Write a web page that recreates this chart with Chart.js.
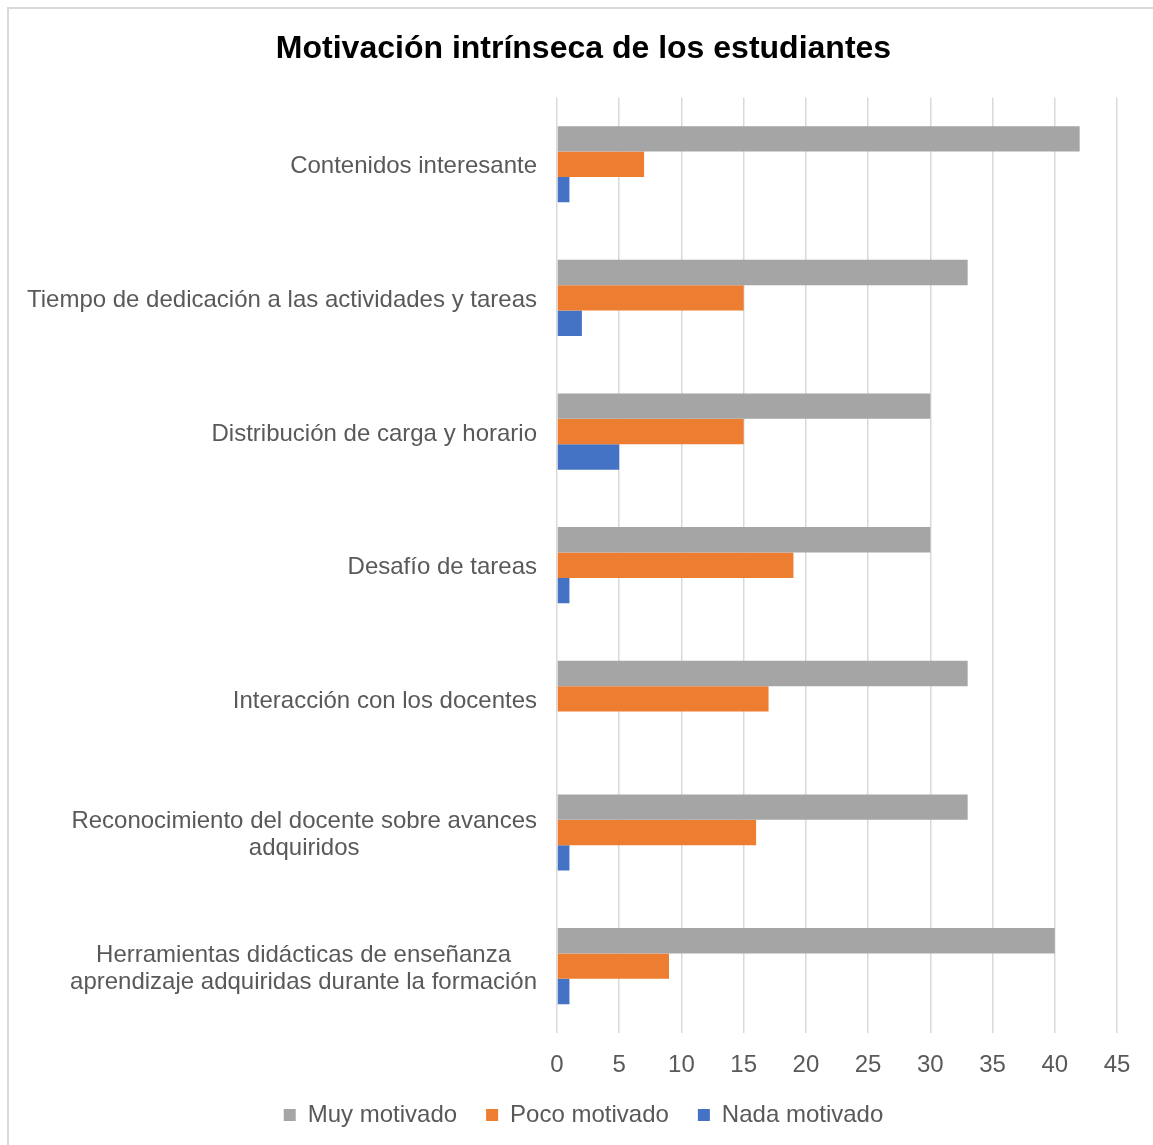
<!DOCTYPE html>
<html>
<head>
<meta charset="utf-8">
<script src="https://cdn.jsdelivr.net/npm/chart.js@4"></script>
<style>
html, body { margin: 0; padding: 0; background: #ffffff; }
#wrap { position: relative; width: 1153px; height: 1145px; }
</style>
</head>
<body>
<div id="wrap"><canvas id="c" width="1153" height="1145"></canvas></div>
<script>
const chartTitle = "Motivación intrínseca de los estudiantes";
const categories = [
  ["Contenidos interesante"],
  ["Tiempo de dedicación a las actividades y tareas"],
  ["Distribución de carga y horario"],
  ["Desafío de tareas"],
  ["Interacción con los docentes"],
  ["Reconocimiento del docente sobre avances", "adquiridos"],
  ["Herramientas didácticas de enseñanza", "aprendizaje adquiridas durante la formación"]
];
const seriesNames = ["Muy motivado", "Poco motivado", "Nada motivado"];
const muyMotivado = [42, 33, 30, 30, 33, 33, 40];
const pocoMotivado = [7, 15, 15, 19, 17, 16, 9];
const nadaMotivado = [1, 2, 5, 1, 0, 1, 1];
const xMin = 0, xMax = 45, xStep = 5;

const FONT = '"Liberation Sans", Arial, sans-serif';
const TEXT = '#595959';

const borderPlugin = {
  id: 'frame',
  beforeDraw(chart) {
    const ctx = chart.ctx;
    ctx.save();
    ctx.fillStyle = '#ffffff';
    ctx.fillRect(0, 0, chart.width, chart.height);
    ctx.fillStyle = '#d9d9d9';
    ctx.fillRect(7, 7, chart.width - 7, 2);
    ctx.fillRect(7, 7, 2, chart.height - 7);
    ctx.restore();
  }
};

const yLabelPlugin = {
  id: 'yLabels',
  afterDraw(chart) {
    const ctx = chart.ctx;
    const ys = chart.scales.y;
    const left = chart.chartArea.left;
    ctx.save();
    ctx.font = '24px ' + FONT;
    ctx.fillStyle = TEXT;
    ctx.textAlign = 'center';
    ctx.textBaseline = 'middle';
    const lh = 27.5;
    categories.forEach((lines, i) => {
      const cy = ys.getPixelForTick(i) + 2.5;
      const w = Math.max(...lines.map(l => ctx.measureText(l).width));
      const cx = left - 20 - w / 2;
      lines.forEach((l, j) => {
        ctx.fillText(l, cx, cy + (j - (lines.length - 1) / 2) * lh);
      });
    });
    ctx.restore();
  }
};

new Chart(document.getElementById('c'), {
  type: 'bar',
  data: {
    labels: categories,
    datasets: [
      { label: seriesNames[0], data: muyMotivado, backgroundColor: '#A5A5A5' },
      { label: seriesNames[1], data: pocoMotivado, backgroundColor: '#ED7D31' },
      { label: seriesNames[2], data: nadaMotivado, backgroundColor: '#4472C4' }
    ]
  },
  options: {
    indexAxis: 'y',
    responsive: false,
    animation: false,
    devicePixelRatio: 1,
    datasets: { bar: { categoryPercentage: 0.57, barPercentage: 1.0 } },
    layout: { padding: { left: 14, right: 0, top: 0, bottom: 8 } },
    scales: {
      x: {
        min: xMin, max: xMax,
        ticks: { stepSize: xStep, color: TEXT, font: { size: 24, family: FONT }, padding: 18 },
        grid: { color: '#d9d9d9', lineWidth: 1.5, drawTicks: false },
        border: { display: false },
        afterFit(scale) { scale.height = 41; scale.paddingRight = 36; }
      },
      y: {
        ticks: { display: false },
        grid: { display: false },
        border: { display: false },
        afterFit(scale) { scale.width = 543; }
      }
    },
    plugins: {
      title: {
        display: true, text: chartTitle, color: '#000000',
        font: { size: 32, weight: 'bold', family: FONT },
        padding: { top: 30, bottom: 29 }
      },
      legend: {
        position: 'bottom',
        labels: { boxWidth: 12, boxHeight: 12, padding: 29, color: TEXT, font: { size: 24, family: FONT } }
      },
      tooltip: { enabled: false }
    }
  },
  plugins: [borderPlugin, yLabelPlugin]
});
</script>
</body>
</html>
